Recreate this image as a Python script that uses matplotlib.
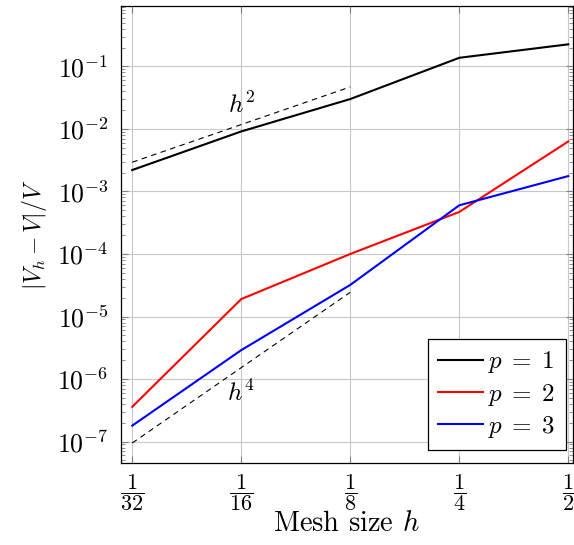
import matplotlib
matplotlib.use('Agg')
import matplotlib.pyplot as plt
import numpy as np

plt.rcParams['font.family'] = 'serif'
plt.rcParams['font.serif'] = ['cmr10']
plt.rcParams['mathtext.fontset'] = 'cm'
plt.rcParams['axes.formatter.use_mathtext'] = True
plt.rcParams['axes.unicode_minus'] = False

# mesh sizes and relative errors
h = [1/32, 1/16, 1/8, 1/4, 1/2]
err_p1 = [2.2e-3, 9.1e-3, 3.0e-2, 0.137, 0.225]
err_p2 = [3.6e-7, 1.9e-5, 1.0e-4, 4.7e-4, 6.3e-3]
err_p3 = [1.8e-7, 2.9e-6, 3.2e-5, 6.0e-4, 1.76e-3]

# reference slopes
h_ref = [1/32, 1/8]
ref_h2 = [2.93e-3, 4.69e-2]
ref_h4 = [9.5e-8, 2.44e-5]

xtick_labels = [r'$\dfrac{1}{32}$', r'$\dfrac{1}{16}$', r'$\dfrac{1}{8}$',
                r'$\dfrac{1}{4}$', r'$\dfrac{1}{2}$']

fig = plt.figure(figsize=(5.74, 5.45), dpi=100)
ax = fig.add_axes([0.2108, 0.150, 0.787, 0.839])

ax.plot(h, err_p1, color='black', lw=1.5, label=r'$p\;=\;1$')
ax.plot(h, err_p2, color='red', lw=1.5, label=r'$p\;=\;2$')
ax.plot(h, err_p3, color='blue', lw=1.5, label=r'$p\;=\;3$')
ax.plot(h_ref, ref_h2, color='black', lw=0.8, dashes=(5, 4))
ax.plot(h_ref, ref_h4, color='black', lw=0.8, dashes=(5, 4))

ax.text(1/16, 0.024, r'$h^2$', fontsize=18, ha='center', va='center')
ax.text(1/16, 6.0e-7, r'$h^4$', fontsize=18, ha='center', va='center')

ax.set_xscale('log', base=2)
ax.set_yscale('log')
ax.set_xlim(2**-5.103, 2**-0.959)
ax.set_ylim(10**-7.346, 10**-0.035)

ax.set_xticks(h)
ax.set_xticklabels(xtick_labels, fontsize=16)
ax.xaxis.set_minor_locator(matplotlib.ticker.NullLocator())
ax.set_yticks([10.0**k for k in range(-7, 0)])
ax.yaxis.set_minor_locator(matplotlib.ticker.LogLocator(base=10, subs=np.arange(2, 10)))
ax.yaxis.set_minor_formatter(matplotlib.ticker.NullFormatter())
ax.tick_params(axis='y', labelsize=18.5, pad=9)
ax.tick_params(axis='x', pad=6)

ax.tick_params(which='both', direction='in', top=True, right=True, color='#808080')
ax.tick_params(which='major', length=5)
ax.tick_params(which='minor', length=3)

ax.grid(True, which='major', color='#c8c8c8', lw=0.8)
ax.set_axisbelow(True)

ax.set_xlabel(r'Mesh size $h$', fontsize=20.5, labelpad=-1)
ax.set_ylabel(r'$|V_h - V|/V$', fontsize=17, labelpad=6)

for s in ax.spines.values():
    s.set_linewidth(0.9)

leg = ax.legend(loc='lower right', bbox_to_anchor=(0.9845, 0.029), fontsize=18,
                fancybox=False, framealpha=1, edgecolor='black',
                handlelength=1.8, borderpad=0.4, labelspacing=0.25,
                handletextpad=0.2, borderaxespad=0)
leg.get_frame().set_linewidth(0.9)

fig.savefig('out.png', dpi=100)
